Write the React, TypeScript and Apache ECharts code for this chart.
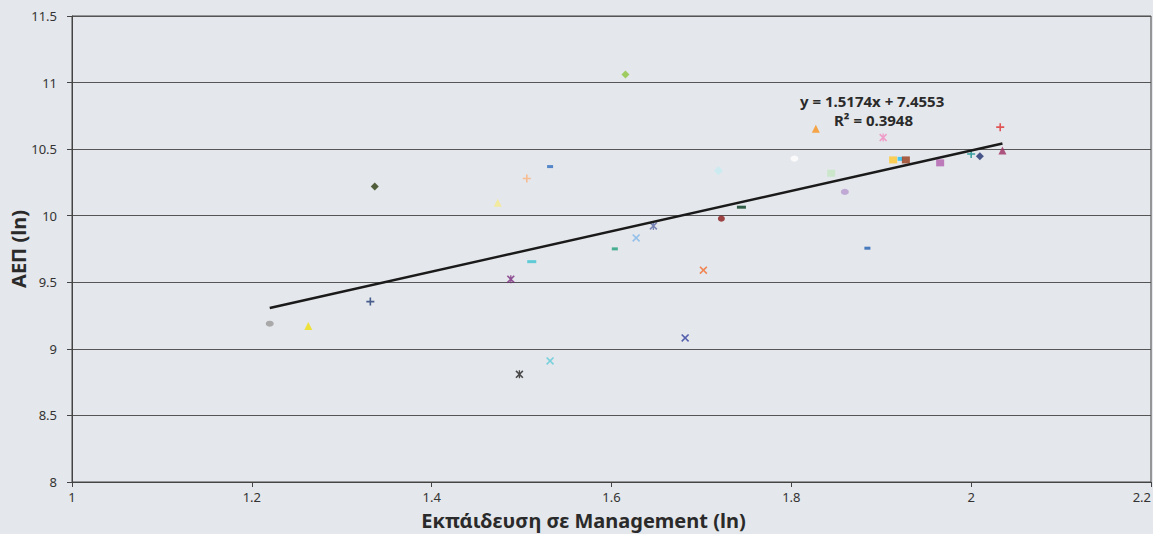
import React, { useEffect, useRef } from "react";
import * as echarts from "echarts";

// Εκπάιδευση σε Management (ln) — one value per country
const xValues = [
  1.2199, 1.2628, 1.3318, 1.3367, 1.4735, 1.5058, 1.5317, 1.5113, 1.488, 1.4976,
  1.5317, 1.6155, 1.6037, 1.6274, 1.6466, 1.6819, 1.7022, 1.7189, 1.7222, 1.7445,
  1.8034, 1.8272, 1.8443, 1.8595, 1.8846, 1.9021, 1.9132, 1.921, 1.9274, 1.9655,
  2.0, 2.0097, 2.0323, 2.0348,
];
// ΑΕΠ (ln)
const yValues = [
  9.189, 9.172, 9.355, 10.219, 10.098, 10.279, 10.369, 9.655, 9.523, 8.809,
  8.909, 11.06, 9.751, 9.833, 9.923, 9.082, 9.591, 10.337, 9.978, 10.064,
  10.429, 10.654, 10.319, 10.179, 9.756, 10.587, 10.419, 10.427, 10.419, 10.397,
  10.464, 10.447, 10.665, 10.489,
];

const trendSlope = 1.5174;
const trendIntercept = 7.4553;
const equationLabel = "y = 1.5174x + 7.4553";
const r2Label = "R² = 0.3948";

const xAxisTitle = "Εκπάιδευση σε Management (ln)";
const yAxisTitle = "ΑΕΠ (ln)";

// marker styles (symbol kind, colour, size) per point
const PLUS = "path://M4,0H6V4H10V6H6V10H4V6H0V4H4Z";
const CROSS =
  "path://M1.4,0L5,3.6L8.6,0L10,1.4L6.4,5L10,8.6L8.6,10L5,6.4L1.4,10L0,8.6L3.6,5L0,1.4Z";
const STAR =
  "path://M1.4,0L5,3.6L8.6,0L10,1.4L6.4,5L10,8.6L8.6,10L5,6.4L1.4,10L0,8.6L3.6,5L0,1.4Z M4.2,0H5.8V10H4.2Z";

const markerStyles: [string, string, number | number[]][] = [
  ["circle", "#9a9a9a", [8, 6]],
  ["triangle", "#f0e010", 8],
  [PLUS, "#1f3b73", 8],
  ["diamond", "#2b3b0f", 8],
  ["triangle", "#f6ea8c", 8],
  [PLUS, "#fbb27a", 8],
  ["rect", "#2f6fc0", [6, 3]],
  ["rect", "#3cc4d0", [9, 3]],
  [STAR, "#7b2a7e", 8],
  [STAR, "#222222", 8],
  [CROSS, "#5ccbd8", 8],
  ["diamond", "#8dc63f", 8],
  ["rect", "#1fa07a", [6, 3]],
  [CROSS, "#7fb7e8", 8],
  [STAR, "#5c6aa8", 8],
  [CROSS, "#2f3f9f", 8],
  [CROSS, "#f26b2c", 8],
  ["diamond", "#c4ecf2", 9],
  ["circle", "#8b1a1a", [7, 6]],
  ["rect", "#00391a", [9, 3]],
  ["circle", "#ffffff", [8, 6]],
  ["triangle", "#f7941d", 8],
  ["rect", "#c6e6c4", [8, 7]],
  ["circle", "#b79bd0", [8, 6]],
  ["rect", "#1f5fb0", [6, 3]],
  [STAR, "#f28ac0", 8],
  ["rect", "#ffc82e", [8, 7]],
  ["rect", "#1fbff0", [5, 4]],
  ["rect", "#993b1b", [8, 7]],
  ["rect", "#b35fae", [8, 7]],
  [PLUS, "#0f8f8f", 8],
  ["diamond", "#1f2f6f", 8],
  [PLUS, "#e03030", 8],
  ["triangle", "#9e2f62", 8],
];

const FONT = "'Noto Sans', 'DejaVu Sans', sans-serif";

export default function App() {
  const ref = useRef<HTMLDivElement>(null);

  useEffect(() => {
    document.body.style.margin = "0";
    if (!ref.current) return;
    const chart = echarts.init(ref.current, undefined, { renderer: "svg" });

    const xMin = Math.min(...xValues);
    const xMax = Math.max(...xValues);
    const trendData = [
      [xMin, trendSlope * xMin + trendIntercept],
      [xMax, trendSlope * xMax + trendIntercept],
    ];

    const points = xValues.map((x, i) => {
      const [symbol, color, size] = markerStyles[i];
      return {
        value: [x, yValues[i]],
        symbol,
        symbolSize: size,
        itemStyle: { color },
      };
    });

    chart.setOption({
      animation: false,
      backgroundColor: "#e4e7eb",
      textStyle: { fontFamily: FONT },
      grid: {
        left: 72,
        right: 2,
        top: 16,
        bottom: 52,
        containLabel: false,
        outerBoundsMode: "none",
        show: true,
        borderColor: "#444",
        borderWidth: 1,
        backgroundColor: "transparent",
      },
      xAxis: {
        type: "value",
        min: 1,
        max: 2.2,
        interval: 0.2,
        name: xAxisTitle,
        nameLocation: "middle",
        nameGap: 28,
        nameMoveOverlap: false,
        nameTextStyle: {
          fontFamily: FONT,
          fontSize: 20,
          fontWeight: "bold",
          color: "#2a2a2a",
          padding: [0, 56, 0, 0],
        },
        axisLine: { show: true, lineStyle: { color: "#444", width: 1 } },
        axisTick: { show: true, length: 5, lineStyle: { color: "#444" } },
        axisLabel: {
          color: "#333",
          fontSize: 13,
          margin: 8,
          fontFamily: FONT,
          alignMaxLabel: "right",
        },
        splitLine: { show: false },
      },
      yAxis: {
        type: "value",
        min: 8,
        max: 11.5,
        interval: 0.5,
        name: yAxisTitle,
        nameLocation: "middle",
        nameRotate: 90,
        nameGap: 44,
        nameMoveOverlap: false,
        nameTextStyle: {
          fontFamily: FONT,
          fontSize: 20,
          fontWeight: "bold",
          color: "#2a2a2a",
        },
        axisLine: { show: true, lineStyle: { color: "#444", width: 1 } },
        axisTick: { show: true, length: 5, lineStyle: { color: "#444" } },
        axisLabel: { color: "#333", fontSize: 13, margin: 15, fontFamily: FONT },
        splitLine: { show: true, lineStyle: { color: "#555", width: 1.2 } },
      },
      series: [
        {
          type: "scatter",
          data: points,
          z: 2,
        },
        {
          type: "line",
          data: trendData,
          symbol: "none",
          lineStyle: { color: "#1a1a1a", width: 2.5 },
          z: 3,
        },
      ],
      graphic: [
        {
          type: "text",
          left: 800,
          top: 93,
          style: {
            text: equationLabel,
            font: `bold 15px ${FONT}`,
            fill: "#2a2a2a",
          },
        },
        {
          type: "text",
          left: 834,
          top: 112,
          style: {
            text: r2Label,
            font: `bold 15px ${FONT}`,
            fill: "#2a2a2a",
          },
        },
      ],
    });

    return () => chart.dispose();
  }, []);

  return (
    <div
      ref={ref}
      style={{ position: "absolute", left: 0, top: 0, width: 1153, height: 534 }}
    />
  );
}
